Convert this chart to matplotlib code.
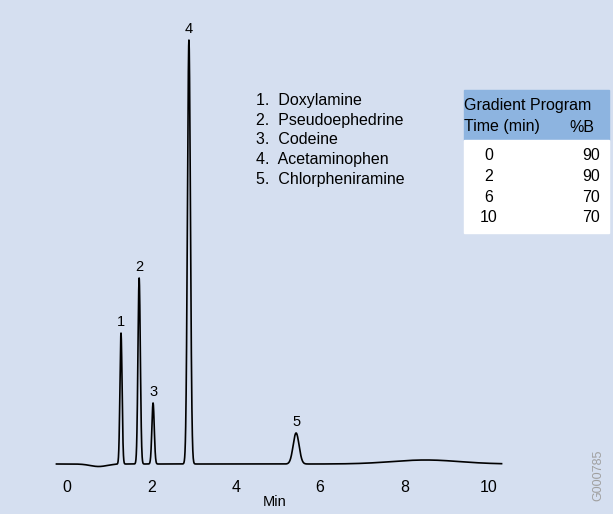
import matplotlib
matplotlib.use('Agg')
import numpy as np
import matplotlib.pyplot as plt

peak_labels = ['1', '2', '3', '4', '5']
peak_times = [1.28, 1.71, 2.04, 2.89, 5.43]
peak_heights = [131, 186, 61, 424, 31]
peak_widths = [0.025, 0.028, 0.028, 0.035, 0.07]
compounds = ['1.  Doxylamine', '2.  Pseudoephedrine', '3.  Codeine',
             '4.  Acetaminophen', '5.  Chlorpheniramine']
grad_time = ['0', '2', '6', '10']
grad_b = ['90', '90', '70', '70']

bg = '#d5dff0'
fs = 11.5
fam = 'Liberation Sans'
fig = plt.figure(figsize=(6.13, 5.14), dpi=100)
fig.patch.set_facecolor(bg)
ax = fig.add_axes([40/613, 1-470/514, 470/613, 440/514])
ax.set_facecolor(bg)

t = np.linspace(-0.25, 10.3, 4000)
sig = np.zeros_like(t)
for tr, h, w in zip(peak_times, peak_heights, peak_widths):
    sig += h*np.exp(-0.5*((t-tr)/w)**2)
# baseline drift: dip near void, broad hump near 8.3 min
sig += -2.5*np.exp(-0.5*((t-0.75)/0.2)**2)
sig += 4*np.exp(-0.5*((t-8.5)/0.8)**2)
ax.plot(t, sig, color='black', lw=1.2)
for lab, tr, h in zip(peak_labels, peak_times, peak_heights):
    ax.text(tr, h+4, lab, ha='center', va='bottom', fontsize=10.5, family=fam)

ax.set_xlim(-0.64, 10.5)
ax.set_ylim(-6, 434)
ax.set_xticks([0, 2, 4, 6, 8, 10])
ax.set_yticks([])
ax.tick_params(length=0, pad=7, labelsize=fs)
for lbl in ax.get_xticklabels():
    lbl.set_family(fam)
ax.set_xlabel('Min', fontsize=10.5, family=fam, labelpad=0)
for s in ax.spines.values():
    s.set_visible(False)

fig.text(256/613, 1-140/514, '\n'.join(compounds), fontsize=fs,
         family=fam, va='center', linespacing=1.38)

# gradient table
fig.patches.append(plt.Rectangle((464/613, 1-140/514), 145/613, 50/514,
                                 transform=fig.transFigure, color='#8db4e0'))
fig.patches.append(plt.Rectangle((464/613, 1-233/514), 145/613, 93/514,
                                 transform=fig.transFigure, color='white'))
fig.text(464/613, 1-106/514, 'Gradient Program', fontsize=fs, family=fam, va='center')
fig.text(464/613, 1-127/514, 'Time (min)', fontsize=fs, family=fam, va='center')
fig.text(594/613, 1-127/514, '%B', fontsize=fs, family=fam, va='center', ha='right')
for i, (a, b) in enumerate(zip(grad_time, grad_b)):
    y = 1-(156+i*20.5)/514
    fig.text(489/613, y, a, fontsize=fs, family=fam, va='center', ha='center')
    fig.text(600/613, y, b, fontsize=fs, family=fam, va='center', ha='right')

fig.text(598/613, 1-475/514, 'G000785', rotation=90, fontsize=9, color='#a0a0a0',
         family=fam, va='center', ha='center')

fig.savefig('out.png', dpi=100, facecolor=bg)
